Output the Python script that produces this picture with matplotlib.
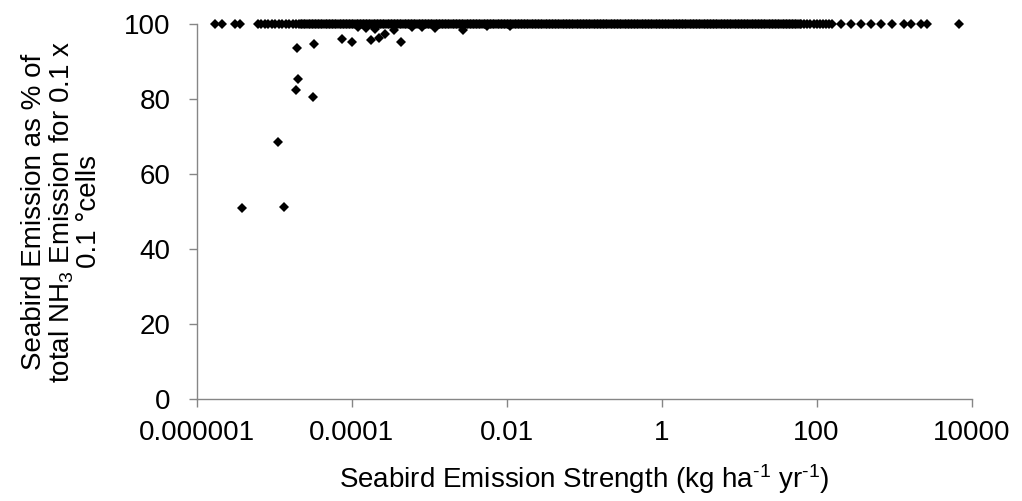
import numpy as np
import matplotlib
matplotlib.use("Agg")
import matplotlib.pyplot as plt
from matplotlib.ticker import FixedLocator, FixedFormatter, NullLocator

plt.rcParams['font.family'] = ['Liberation Sans', 'DejaVu Sans']
plt.rcParams['mathtext.fontset'] = 'custom'
plt.rcParams['mathtext.rm'] = 'Liberation Sans'
plt.rcParams['mathtext.it'] = 'Liberation Sans'

# cells where seabird emission is ~100 % (log10 of emission strength)
row_log10 = [
    -5.21, -5.17, -5.12, -5.08, -5.03, -4.99, -4.94, -4.90, -4.85, -4.81,
    -4.76, -4.72, -4.68,
    -4.66, -4.64, -4.62, -4.60, -4.58, -4.56, -4.54, -4.52, -4.50, -4.48,
    -4.46, -4.44, -4.42, -4.40, -4.38, -4.36, -4.34, -4.32, -4.30, -4.28,
    -4.26, -4.24, -4.22, -4.20, -4.18, -4.16, -4.14, -4.12, -4.10, -4.08,
    -4.06, -4.04, -4.02, -4.00, -3.98, -3.96, -3.94, -3.92, -3.90, -3.88,
    -3.86, -3.84, -3.82, -3.80, -3.78, -3.76, -3.74, -3.72, -3.70, -3.68,
    -3.66, -3.64, -3.62, -3.60, -3.58, -3.56, -3.54, -3.52, -3.50, -3.48,
    -3.46, -3.44, -3.42, -3.40, -3.38, -3.36, -3.34, -3.32, -3.30, -3.28,
    -3.26, -3.24, -3.22, -3.20, -3.18, -3.16, -3.14, -3.12, -3.10, -3.08,
    -3.06, -3.04, -3.02, -3.00, -2.98, -2.96, -2.94, -2.92, -2.90, -2.88,
    -2.86, -2.84, -2.82, -2.80, -2.78, -2.76, -2.74, -2.72, -2.70, -2.68,
    -2.66, -2.64, -2.62, -2.60, -2.58, -2.56, -2.54, -2.52, -2.50, -2.48,
    -2.46, -2.44, -2.42, -2.40, -2.38, -2.36, -2.34, -2.32, -2.30, -2.28,
    -2.26, -2.24, -2.22, -2.20, -2.18, -2.16, -2.14, -2.12, -2.10, -2.08,
    -2.06, -2.04, -2.02, -2.00, -1.98, -1.96, -1.94, -1.92, -1.90, -1.88,
    -1.86, -1.84, -1.82, -1.80, -1.78, -1.76, -1.74, -1.72, -1.70, -1.68,
    -1.66, -1.64, -1.62, -1.60, -1.58, -1.56, -1.54, -1.52, -1.50, -1.48,
    -1.46, -1.44, -1.42, -1.40, -1.38, -1.36, -1.34, -1.32, -1.30, -1.28,
    -1.26, -1.24, -1.22, -1.20, -1.18, -1.16, -1.14, -1.12, -1.10, -1.08,
    -1.06, -1.04, -1.02, -1.00, -0.98, -0.96, -0.94, -0.92, -0.90, -0.88,
    -0.86, -0.84, -0.82, -0.80, -0.78, -0.76, -0.74, -0.72, -0.70, -0.68,
    -0.66, -0.64, -0.62, -0.60, -0.58, -0.56, -0.54, -0.52, -0.50, -0.48,
    -0.46, -0.44, -0.42, -0.40, -0.38, -0.36, -0.34, -0.32, -0.30, -0.28,
    -0.26, -0.24, -0.22, -0.20, -0.18, -0.16, -0.14, -0.12, -0.10, -0.08,
    -0.06, -0.04, -0.02, 0.00, 0.02, 0.04, 0.06, 0.08, 0.10, 0.12,
    0.14, 0.16, 0.18, 0.20, 0.22, 0.24, 0.26, 0.28, 0.30, 0.32,
    0.34, 0.36, 0.38, 0.40, 0.42, 0.44, 0.46, 0.48, 0.50, 0.52,
    0.54, 0.56, 0.58, 0.60, 0.62, 0.64, 0.66, 0.68, 0.70, 0.72,
    0.74, 0.76, 0.78, 0.80, 0.82, 0.84, 0.86, 0.88, 0.90, 0.92,
    0.94, 0.96, 0.98, 1.00, 1.02, 1.04, 1.06, 1.08, 1.10, 1.12,
    1.14, 1.16, 1.18, 1.20, 1.22, 1.24, 1.26, 1.28, 1.30, 1.32,
    1.34, 1.36, 1.38, 1.40, 1.42, 1.44, 1.46, 1.48, 1.50, 1.52,
    1.54, 1.56, 1.58, 1.60, 1.62, 1.64, 1.66, 1.68, 1.70, 1.72,
    1.74, 1.76, 1.78, 1.80,
    1.84, 1.88, 1.92, 1.96, 2.00, 2.04, 2.08, 2.12, 2.16, 2.20,
    2.32, 2.44, 2.57, 2.70, 2.83, 2.97, 3.13,
]

# isolated points (emission strength in kg/ha/yr, % seabird)
pts_x = [1.71e-6, 2.08e-6, 3.1e-6, 3.59e-6, 3.77e-6, 1.10e-5, 1.34e-5,
         1.88e-5, 1.99e-5, 1.93e-5, 3.17e-5, 3.26e-5, 7.36e-5, 9.9e-5,
         1.79e-4, 2.23e-4, 2.67e-4, 4.28e-4, 2.7e-3,
         1.2e-4, 1.5e-4, 2.0e-4, 3.5e-4, 6.0e-4, 8.0e-4, 1.2e-3, 5.5e-3, 1.1e-2,
         1667, 2240, 2680, 6850]
pts_y = [100, 100, 100, 100, 50.9, 68.5, 51.3,
         82.5, 85.4, 93.7, 80.7, 94.7, 96.0, 95.3,
         95.7, 96.3, 97.3, 95.3, 98.5,
         99.3, 99.0, 98.8, 98.6, 99.2, 99.4, 99.1, 99.5, 99.6,
         100, 100, 100, 100]

x_ticks = [1e-6, 1e-4, 1e-2, 1, 100, 1e4]
x_tick_labels = ['0.000001', '0.0001', '0.01', '1', '100', '10000']
y_ticks = [0, 20, 40, 60, 80, 100]

fig = plt.figure(figsize=(10.22, 5.01), dpi=100)
ax = fig.add_axes([197 / 1022, (501 - 398.7) / 501, 774.5 / 1022, 374.4 / 501])

row_x = [10 ** v for v in row_log10]
row_y = [100] * len(row_x)
ax.plot(row_x, row_y, linestyle='none', marker='D', markersize=5.6,
        color='black', markeredgewidth=0, clip_on=False)
ax.plot(pts_x, pts_y, linestyle='none', marker='D', markersize=5.6,
        color='black', markeredgewidth=0, clip_on=False)

ax.set_xscale('log')
ax.set_xlim(1e-6, 1e4)
ax.set_ylim(0, 100)
ax.xaxis.set_major_locator(FixedLocator(x_ticks))
ax.xaxis.set_major_formatter(FixedFormatter(x_tick_labels))
ax.xaxis.set_minor_locator(NullLocator())
ax.set_yticks(y_ticks)

for s in ['top', 'right']:
    ax.spines[s].set_visible(False)
for s in ['left', 'bottom']:
    ax.spines[s].set_color('#868686')
    ax.spines[s].set_linewidth(1.0)
ax.tick_params(axis='both', which='major', direction='out', length=6,
               width=1.0, color='#868686', labelsize=20, labelcolor='black')
ax.tick_params(axis='y', pad=13)
ax.tick_params(axis='x', pad=9)

ax.set_xlabel('Seabird Emission Strength (kg ha$^{\\text{-1}}$ yr$^{\\text{-1}}$)',
              fontsize=20, labelpad=12)
ax.set_ylabel('Seabird Emission as % of\ntotal NH$_{\\mathregular{3}}$ Emission for 0.1 x\n0.1 \u00b0cells',
              fontsize=20, labelpad=16, linespacing=1.0)

fig.savefig('out.png', dpi=100, facecolor='white')
